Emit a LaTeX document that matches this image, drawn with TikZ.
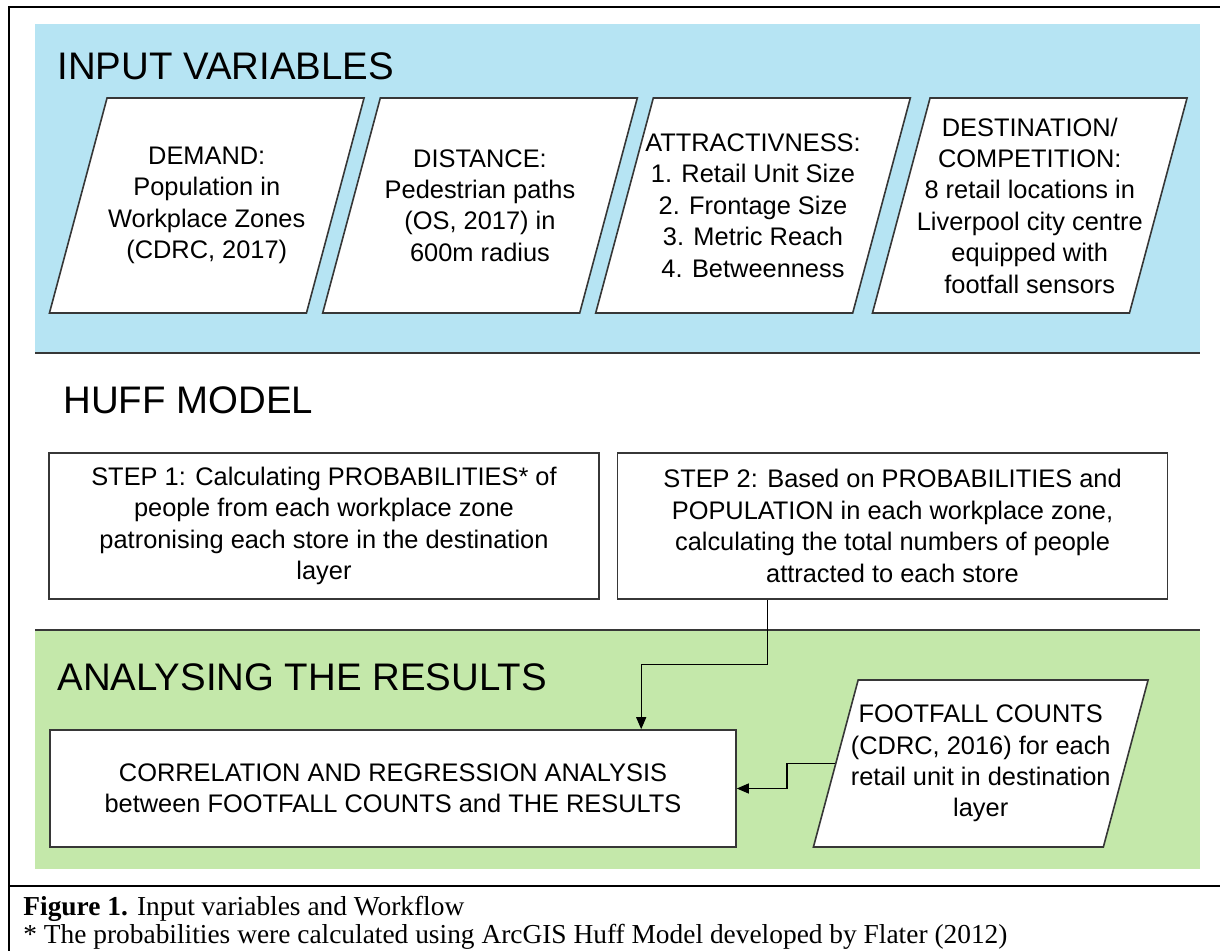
\documentclass[tikz,border=0pt]{standalone}
\usepackage{fontspec}
\setmainfont{Liberation Sans}
\newfontfamily\capfont{Liberation Serif}
\usetikzlibrary{shapes.geometric,arrows.meta}

\definecolor{inputblue}{RGB}{182,228,243}
\definecolor{resultgreen}{RGB}{196,232,170}
\definecolor{edgegray}{RGB}{55,55,55}

\begin{document}
\begin{tikzpicture}[x=0.5pt,y=-0.5pt,>={Triangle[length=6pt,width=5pt]},
    every node/.style={font=\fontsize{12.7}{15.7}\selectfont},
    title/.style={anchor=base west,inner sep=0pt,font=\fontsize{19.2}{23}\selectfont},
    data/.style 2 args={shape=trapezium,trapezium left angle=75,trapezium right angle=105,
                 draw=edgegray,line width=0.8pt,fill=white,inner xsep=-10pt,inner ysep=0pt,
                 execute at begin node={\begin{minipage}[c][#2][c]{#1}\centering},
                 execute at end node={\end{minipage}}},
    stepbox/.style={draw=edgegray,line width=0.8pt,fill=white,align=center,
                    inner sep=0pt,minimum width=275pt,minimum height=73pt},
    caption/.style={anchor=base west,inner sep=0pt,font=\capfont\fontsize{13.7}{16}\selectfont},
    link/.style={->,line width=0.6pt}]
\useasboundingbox (0,0) rectangle (1220,951);

% frame and bands
\draw[line width=1pt] (9,951) -- (9,7) -- (1220,7);
\draw[line width=1pt] (9,886) -- (1220,886);
\fill[inputblue] (35,24) rectangle (1200,353);
\draw[edgegray,line width=1pt] (35,353) -- (1200,353);
\fill[resultgreen] (35,630) rectangle (1200,869);
\draw[edgegray,line width=1pt] (35,630) -- (1200,630);

\node[title] (inputs) at (57,80) {INPUT VARIABLES};
\node[title] (huff) at (63,414) {HUFF MODEL};
\node[title] (analysis) at (57,690) {ANALYSING THE RESULTS};

% input variables
\node[data={119.7pt}{107.5pt}] (demand) at (206.75,205.5) {DEMAND:\\Population in\\Workplace Zones\\(CDRC, 2017)};
\node[data={119.7pt}{107.5pt}] (distance) at (480,205.5) {DISTANCE:\\Pedestrian paths\\(OS, 2017) in\\600m radius};
\node[data={119.7pt}{107.5pt}] (attract) at (753,205.5) {ATTRACTIVNESS:\\1. Retail Unit Size\\2. Frontage Size\\3. Metric Reach\\4. Betweenness};
\node[data={119.7pt}{107.5pt}] (dest) at (1029.75,205.5) {DESTINATION/\\COMPETITION:\\8 retail locations in\\Liverpool city centre\\equipped with\\footfall sensors};

% huff model
\node[stepbox] (step1) at (324,526) {STEP 1: Calculating PROBABILITIES* of\\people from each workplace zone\\patronising each store in the destination\\layer};
\node[stepbox] (step2) at (892.5,526) {STEP 2: Based on PROBABILITIES and\\POPULATION in each workplace zone,\\calculating the total numbers of people\\attracted to each store};

% results
\node[stepbox,minimum width=343pt,minimum height=58.5pt] (result) at (393,788.5) {CORRELATION AND REGRESSION ANALYSIS\\between FOOTFALL COUNTS and THE RESULTS};
\node[data={142.6pt}{83.5pt}] (footfall) at (980.75,763.5) {FOOTFALL COUNTS\\(CDRC, 2016) for each\\retail unit in destination\\layer};

\draw[link] ([xshift=75.5pt]step2.south west) -- ++(0,65) -| ([xshift=296pt]result.north west);
\draw[link] (footfall.west) -- ++(-48,0) |- (result.east);

\node[caption] (figcap) at (23,915) {\textbf{Figure 1.} Input variables and Workflow};
\node[caption] (note) at (23,943) {* The probabilities were calculated using ArcGIS Huff Model developed by Flater (2012)};
\end{tikzpicture}
\end{document}
